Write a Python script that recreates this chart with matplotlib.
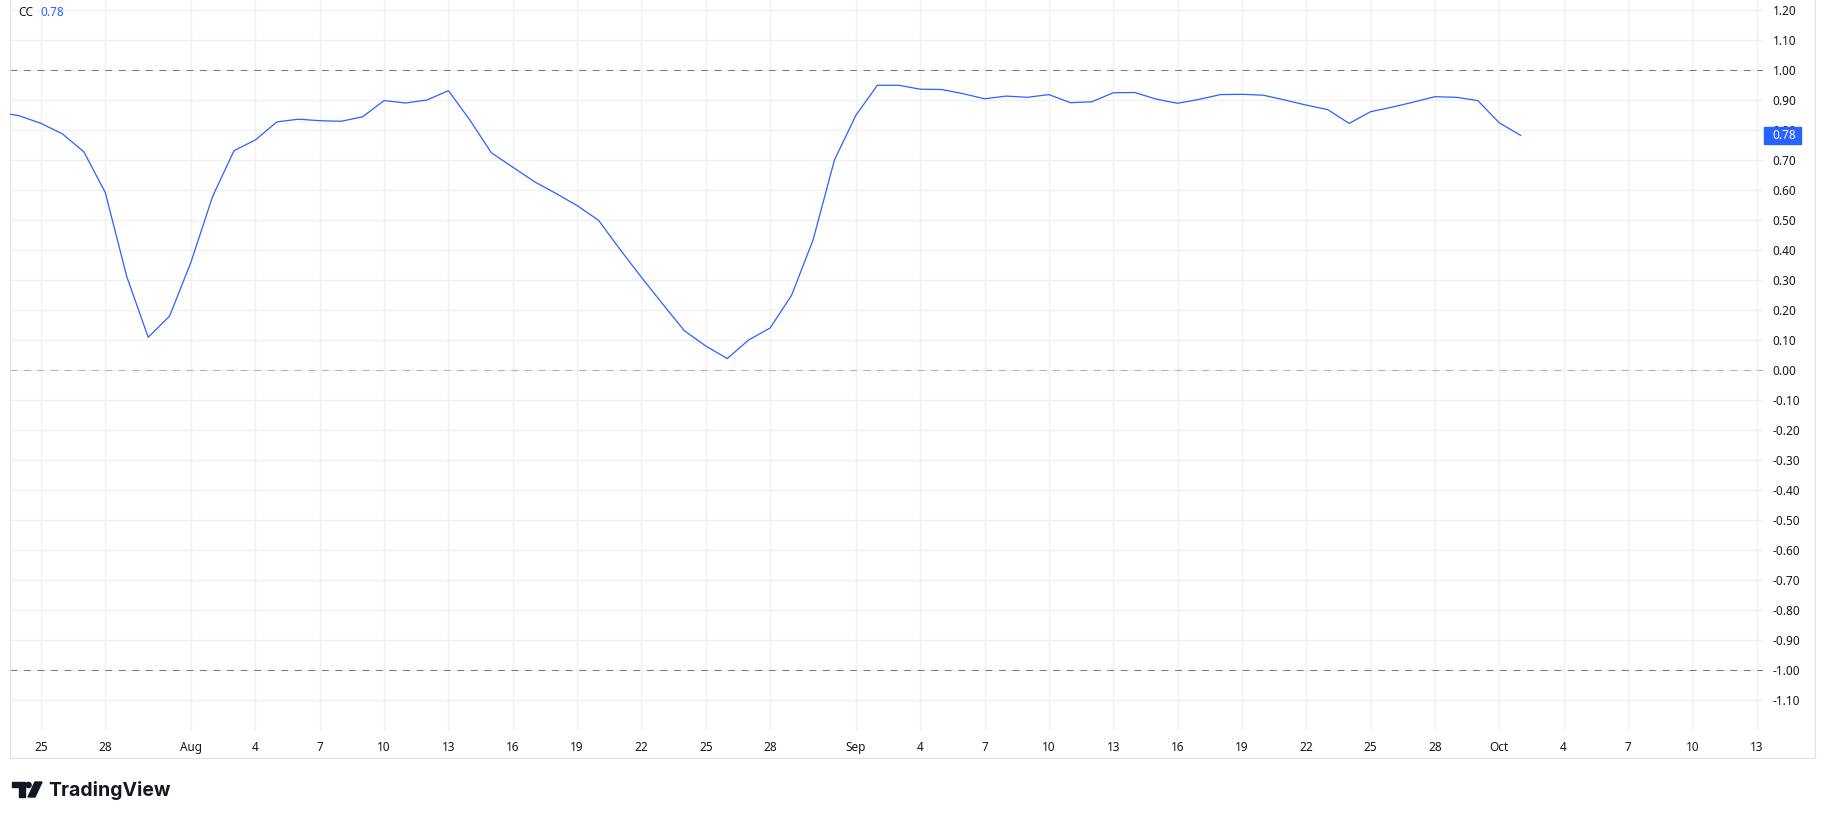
import numpy as np
import pandas as pd
import matplotlib
matplotlib.use("Agg")
import matplotlib.pyplot as plt
import matplotlib.transforms as mtransforms
from matplotlib.patches import Rectangle, Polygon, Circle

plt.rcParams['font.family'] = ['Noto Sans', 'DejaVu Sans']

# correlation coefficient, daily from Jul 23
dates = pd.date_range('2024-07-23', periods=72, freq='D')
cc = [0.860, 0.847, 0.822, 0.787, 0.727, 0.591, 0.311, 0.109, 0.180,
      0.361, 0.578, 0.731, 0.767, 0.827, 0.836, 0.831, 0.829, 0.844, 0.898,
      0.890, 0.900, 0.931, 0.833, 0.724, 0.676, 0.628, 0.589, 0.548, 0.499,
      0.402, 0.309, 0.219, 0.131, 0.080, 0.038, 0.100, 0.140, 0.249, 0.433,
      0.700,
      0.849, 0.949, 0.949, 0.936, 0.935, 0.921, 0.904, 0.913, 0.909, 0.918,
      0.891, 0.894, 0.924, 0.925, 0.903, 0.889, 0.902, 0.918, 0.919, 0.916,
      0.900, 0.883, 0.868, 0.822, 0.861, 0.876, 0.893, 0.911, 0.909, 0.898,
      0.824, 0.782]

tick_dates = pd.to_datetime(['2024-07-25', '2024-07-28', '2024-08-01', '2024-08-04',
                             '2024-08-07', '2024-08-10', '2024-08-13', '2024-08-16',
                             '2024-08-19', '2024-08-22', '2024-08-25', '2024-08-28',
                             '2024-09-01', '2024-09-04', '2024-09-07', '2024-09-10',
                             '2024-09-13', '2024-09-16', '2024-09-19', '2024-09-22',
                             '2024-09-25', '2024-09-28', '2024-10-01', '2024-10-04',
                             '2024-10-07', '2024-10-10', '2024-10-13'])
tick_labels = ['25', '28', 'Aug', '4', '7', '10', '13', '16', '19', '22', '25', '28',
               'Sep', '4', '7', '10', '13', '16', '19', '22', '25', '28',
               'Oct', '4', '7', '10', '13']
levels = [1.0, 0.0, -1.0]
yticks = np.round(np.arange(-1.1, 1.21, 0.1), 2)

blue = '#2962ff'
txt = '#131722'
grid_c = '#f0f0f0'

W, H = 1825, 818
fig = plt.figure(figsize=(W / 100, H / 100), dpi=100)
fig.patch.set_facecolor('white')
ax = fig.add_axes([10 / W, (H - 730) / H, (1763 - 10) / W, 730 / H])

ax.plot(dates, cc, color=blue, lw=0.9, zorder=3)

for lv in levels:
    ax.axhline(lv, color='#b2b5be' if lv == 0 else '#787b86', lw=0.75,
               dashes=(6.5, 6.5), zorder=2)

t0 = pd.Timestamp('2024-07-25')
ax.set_xlim(t0 - pd.Timedelta(days=1.446), t0 + pd.Timedelta(days=80.3))
ax.set_ylim(-1.2, 1.2333)

ax.set_xticks(tick_dates)
ax.set_xticklabels(tick_labels)
for lab in ax.get_xticklabels():
    if lab.get_text() in ('Aug', 'Sep', 'Oct'):
        lab.set_fontweight('bold')
ax.set_yticks(yticks)
ax.set_yticklabels(['%.2f' % v if v != 0 else '0.00' for v in yticks])
ax.yaxis.tick_right()
ax.tick_params(axis='both', length=0, labelsize=8.5, labelcolor=txt)
ax.tick_params(axis='x', pad=8)
ax.tick_params(axis='y', pad=7)
ax.grid(True, color=grid_c, lw=1)
ax.set_axisbelow(True)
for s in ['top', 'right', 'bottom']:
    ax.spines[s].set_visible(False)
ax.spines['left'].set_color('#e0e3eb')
ax.spines['left'].set_linewidth(0.8)

# last value label on price scale
last = cc[-1]
tr = mtransforms.blended_transform_factory(ax.transAxes, ax.transData)
ax.add_patch(Rectangle((1.0006, last - 0.0283), 37 / 1753, 0.0567, transform=tr,
                       color=blue, clip_on=False, zorder=5))
ax.text(1.0052, last, '%.2f' % last, transform=tr, color='white', fontsize=8.5,
        fontweight='bold', va='center', ha='left', zorder=6, clip_on=False)

# overlay in pixel coords for legend, frame and logo
ov = fig.add_axes([0, 0, 1, 1], zorder=10)
ov.set_xlim(0, W)
ov.set_ylim(H, 0)
ov.axis('off')
ov.patch.set_alpha(0)

ov.text(18, 12, 'CC', color=txt, fontsize=8.5, va='center', ha='left')
ov.text(40, 12, '%.2f' % last, color=blue, fontsize=8.5, va='center', ha='left')

ov.plot([10, 1815], [758, 758], color='#e0e3eb', lw=0.8)
ov.plot([1815, 1815], [0, 758], color='#e0e3eb', lw=0.8)
ov.plot([10, 10], [730, 758], color='#e0e3eb', lw=0.8)

# TradingView logo
ov.add_patch(Polygon([[12, 782], [25, 782], [25, 797], [19, 797], [19, 787], [12, 787]],
                     closed=True, color='#131722'))
ov.add_patch(Circle((28.5, 785), 2.6, color='#131722'))
ov.add_patch(Polygon([[35, 782], [42, 782], [35, 797], [28, 797]], closed=True,
                     color='#131722'))
ov.text(48, 790, 'TradingView', color='#131722', fontsize=14, fontweight='bold',
        family=['Inter', 'DejaVu Sans'], va='center', ha='left')

fig.savefig('out.png', dpi=100, facecolor='white')
